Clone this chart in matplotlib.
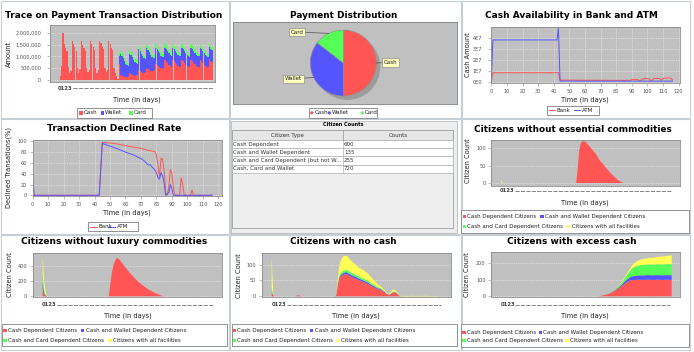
import numpy as np
import matplotlib
matplotlib.use("Agg")
import matplotlib.pyplot as plt
from matplotlib.patches import Rectangle, Circle
from matplotlib.lines import Line2D

plt.rcParams["font.family"] = ["DejaVu Sans"]

# ------------------------------------------------------------------ data
n_days = 117
days = np.arange(n_days)

# Trace on Payment Transaction Distribution (values in thousands)
cash_amount = [
    150, 600, 2000, 1550, 1350, 1250, 550, 300, 400,
    1650, 1550, 1400, 1250, 500, 300, 450,
    1650, 1500, 1380, 1250, 520, 320, 420,
    1650, 1550, 1400, 1280, 500, 300, 430,
    1680, 1560, 1420, 1300, 530, 320, 440,
    1650, 1520, 1380, 1260, 520, 300, 150,
    60,
    700,
    200, 180, 150, 130, 120, 130, 150,
    280, 250, 220, 200, 190, 200, 220,
    410, 380, 340, 310, 300, 320,
    510, 480, 440, 400, 380, 390, 420,
    690, 650, 600, 550, 500, 480, 500,
    830, 780, 710, 640, 580, 550,
    860, 800, 730, 660, 600, 560, 550,
    840, 790, 720, 650, 590, 550, 540,
    860, 800, 730, 660, 600, 560, 550,
    850, 790, 720, 650, 590, 550, 540,
    880, 820, 760]
noncash_start = 45
wallet_amount = [
    300,
    900, 850, 780, 680, 580, 500, 450,
    820, 800, 740, 660, 580, 520, 480,
    900, 850, 780, 700, 620, 560,
    840, 800, 740, 680, 600, 550, 520,
    690, 660, 620, 580, 540, 500, 470,
    550, 540, 520, 500, 480, 460,
    520, 520, 510, 500, 480, 460, 450,
    540, 530, 510, 490, 470, 450, 440,
    520, 520, 510, 500, 480, 460, 450,
    530, 520, 510, 490, 470, 450, 440,
    540, 520, 500]
card_amount = [
    200,
    140, 130, 120, 110, 100, 90, 90,
    170, 160, 150, 130, 120, 110, 100,
    140, 130, 120, 110, 100, 100,
    170, 160, 150, 140, 130, 120, 120,
    210, 190, 170, 150, 140, 130, 130,
    210, 190, 170, 150, 140, 130,
    170, 160, 150, 140, 130, 130, 120,
    140, 140, 130, 130, 120, 120, 110,
    170, 160, 150, 140, 130, 130, 120,
    140, 140, 130, 130, 120, 120, 110,
    170, 160, 150]
pay_names = ["Cash", "Wallet", "Card"]
amount_ticks = [0, 500, 1000, 1500, 2000]
amount_tick_labels = ["0", "500,000", "1,000,000", "1,500,000", "2,000,000"]

# Payment Distribution
pie_labels = ["Cash", "Wallet", "Card"]
pie_values = [50.0, 35.5, 14.5]

# Cash Availability in Bank and ATM
bank_cash_days = [0, 1, 43, 44, 86, 87, 88, 89, 90, 92, 94, 95, 96, 97, 99, 101,
                  102, 103, 104, 106, 108, 109, 110, 112, 114, 115, 116]
bank_cash = [0, 8.3e6, 8.3e6, 1.5e6, 1.2e6, 1.6e6, 1.2e6, 1.4e6, 2.0e6, 2.2e6, 1.9e6,
             1.0e6, 1.5e6, 2.6e6, 3.0e6, 2.7e6, 1.2e6, 1.5e6, 2.8e6, 3.1e6, 2.9e6,
             1.2e6, 2.9e6, 3.4e6, 3.5e6, 3.2e6, 1.6e6]
atm_cash_days = [0, 1, 42, 43, 44, 116]
atm_cash = [0, 3.85e7, 3.85e7, 4.9e7, 0.6e6, 0.5e6]
cash_ticks = [0, 1e7, 2e7, 3e7, 4e7]
cash_tick_labels = ["0E0", "1E7", "2E7", "3E7", "4E7"]

# Transaction Declined Rate
bank_decl_days = [0, 43, 45, 50, 55, 60, 65, 70, 75, 79, 80, 81, 82, 83, 84, 85, 86,
                  87, 88, 89, 90, 91, 92, 95, 96, 97, 98, 102, 103, 104, 116]
bank_decl = [0, 0, 98, 97, 95, 92, 89.5, 87, 83, 81, 75, 55, 35, 69, 66, 45, 5,
             0, 15, 48, 40, 12, 0, 0, 32, 20, 0, 0, 10, 0, 0]
atm_decl_days = [0, 1, 43, 45, 50, 55, 60, 65, 70, 72, 74, 75, 76, 77, 79, 80, 81,
                 82, 83, 84, 85, 86, 88, 89, 90, 91, 116]
atm_decl = [35, 0, 0, 96, 91, 86, 80, 75, 68, 64, 58, 56, 57, 53, 47, 42, 33,
            30, 42, 36, 22, 0, 5, 20, 12, 0, 0]

# Citizen Counts table
citizen_types = ["Cash Dependent", "Cash and Wallet Dependent",
                 "Cash and Card Dependent (but not W...", "Cash, Card and Wallet"]
citizen_counts = [600, 135, 255, 720]

group_names = ["Cash Dependent Citizens", "Cash and Wallet Dependent Citizens",
               "Cash and Card Dependent Citizens", "Citizens with all facilities"]

# Citizens without essential commodities: (start day, values)
ess_red = [(51, [0, 40, 90, 112, 118, 120, 118, 115, 110, 105, 100, 95, 90, 86, 80, 72,
                 65, 60, 56, 50, 45, 40, 35, 30, 26, 22, 18, 14, 10, 7, 4, 2, 1, 0])]
ess_blue = []
ess_green = []
ess_yellow = [(0, [8, 0])]

# Citizens without luxury commodities
lux_red = [(0, [100, 20, 5]),
           (45, [0, 150, 300, 400, 460, 500, 510, 495, 470, 445, 420, 395, 370, 345, 320,
                 298, 276, 255, 235, 215, 197, 180, 163, 147, 133, 119, 106, 93, 81, 70,
                 59, 49, 40, 32, 24, 16, 9, 3, 0])]
lux_blue = [(0, [90, 20, 5])]
lux_green = [(0, [100, 40, 10])]
lux_yellow = [(0, [250, 120, 40])]

# Citizens with no cash
nc_red = [(0, [10, 4]), (17, [2, 3, 2]),
          (43, [0, 5, 35, 55, 62, 66, 68, 70, 70, 68, 65, 62, 60, 58, 56, 54, 52, 50, 48,
                46, 44, 42, 40, 38, 35, 32, 30, 28, 25, 23, 21, 20, 18, 15, 12, 8, 5, 4,
                6, 10, 12, 12, 10, 5, 1, 0])]
nc_blue = [(0, [3, 1]),
           (43, [0, 0, 3, 4, 5, 5, 6, 6, 6, 6, 6, 6, 6, 6, 6, 6, 5, 5, 5, 5, 5, 5, 5, 5,
                 4, 4, 4, 4, 3, 3, 3, 3, 2, 2, 2, 1, 1, 1, 1, 1, 1, 1, 1, 1, 0, 0])]
nc_green = [(0, [12, 2]),
            (43, [0, 0, 3, 5, 6, 6, 7, 7, 8, 8, 7, 7, 7, 7, 7, 6, 6, 6, 6, 6, 6, 5, 5, 5,
                  5, 5, 4, 4, 4, 4, 3, 3, 3, 2, 2, 1, 1, 1, 1, 2, 2, 2, 1, 1, 0, 0])]
nc_yellow = [(0, [100, 5]),
             (43, [0, 2, 15, 30, 40, 45, 46, 45, 44, 42, 40, 38, 36, 34, 32, 30, 29, 28,
                   28, 27, 26, 25, 24, 22, 20, 18, 16, 14, 12, 10, 8, 7, 6, 5, 4, 3, 2, 2,
                   4, 6, 6, 5, 4, 3, 1, 0]),
             (89, [1, 1, 2, 1, 1, 1, 2, 1, 1, 1, 1, 2, 1, 1, 1, 1, 2, 1, 1, 1, 1, 1, 1, 1,
                   1, 0])]

# Citizens with excess cash
ex_red = [(66, [0, 2, 3, 5, 7, 9, 11, 14, 18, 22, 27, 32, 38, 44, 50, 56, 63, 70, 77, 83,
                88, 93, 96, 98, 99,
                100, 99, 100, 101, 100, 100, 99, 100, 100, 101, 100, 100, 99, 100, 100,
                101, 100, 100, 100, 99, 100, 100, 101, 100, 100, 100])]
ex_blue = [(75, [1, 1, 2, 3, 4, 5, 6, 8, 10, 12, 14, 16, 18, 20, 22, 23, 24, 25, 26, 26,
                 27, 27, 27, 28, 28, 28, 28, 28, 28, 28, 28, 28, 28, 28, 28, 28, 28, 28,
                 28, 28, 28, 28])]
ex_green = [(74, [1, 2, 3, 4, 5, 6, 7, 9, 12, 15, 19, 24, 30, 36, 42, 48, 53, 56, 58, 60,
                  61, 62, 63, 63, 64, 64, 64, 65, 65, 65, 65, 65, 66, 66, 66, 66, 66, 66,
                  66, 67, 67, 67, 67])]
ex_yellow = [(78, [1, 1, 2, 3, 4, 5, 6, 8, 10, 12, 15, 18, 21, 24, 27, 29, 31, 33, 35, 36,
                   37, 38, 39, 40, 40, 41, 42, 43, 44, 45, 46, 47, 48, 48, 49, 50, 51, 52,
                   53])]

# ------------------------------------------------------------------ style
RED, BLUE, GREEN, YELLOW = "#ff5555", "#5555ff", "#55ff55", "#ffff55"
PLOT_BG = "#c0c0c0"
AX_EDGE = "#8c8c8c"
TICK_C = "#505050"
TXT = "#202020"

W, H = 694, 352
fig = plt.figure(figsize=(W / 100, H / 100), dpi=100)
fig.patch.set_facecolor("white")
R = fig.canvas.get_renderer()


def frac(x0, y0, x1, y1):
    return [x0 / W, 1 - y1 / H, (x1 - x0) / W, (y1 - y0) / H]


bg = fig.add_axes([0, 0, 1, 1], zorder=0)
bg.set_xlim(0, W); bg.set_ylim(H, 0); bg.axis("off")
fg = fig.add_axes([0, 0, 1, 1], zorder=30)
fg.set_xlim(0, W); fg.set_ylim(H, 0); fg.axis("off")


def build(segs):
    a = np.zeros(n_days)
    for start, vals in segs:
        a[start:start + len(vals)] = vals
    return a


def title(cx, cy, s, width, size=7.0):
    t = fg.text(cx, cy, s, ha="center", va="center", fontsize=size,
                fontweight="bold", color="black")
    w = t.get_window_extent(renderer=R).width
    t.set_fontsize(size * width / w)
    return t


def make_ax(x0, y0, x1, y1, xlim, ylim, ypad=1.5, xpad=2.0):
    ax = fig.add_axes(frac(x0, y0, x1, y1), zorder=10)
    ax.set_facecolor(PLOT_BG)
    for sp in ax.spines.values():
        sp.set_color(AX_EDGE); sp.set_linewidth(0.6)
    ax.tick_params(length=2, width=0.4, color=AX_EDGE, labelsize=3.6,
                   labelcolor=TICK_C)
    ax.tick_params(axis="y", pad=ypad)
    ax.tick_params(axis="x", pad=xpad)
    ax.set_xlim(*xlim); ax.set_ylim(*ylim)
    ax.set_axisbelow(True)
    return ax


def grid(ax, both=False):
    kw = dict(color="white", lw=0.4, ls=(0, (2, 2)), alpha=0.8)
    ax.yaxis.grid(True, **kw)
    if both:
        ax.xaxis.grid(True, **kw)


def xlab(cx, cy, s):
    fg.text(cx, cy, s, ha="center", va="center", fontsize=4.8, color=TXT)


def ylab(cx, cy, s):
    fg.text(cx, cy, s, ha="center", va="center", fontsize=4.8, color=TXT, rotation=90)


def cat_labels(x0, x1, y):
    fg.text(x0, y, "0123", ha="left", va="center", fontsize=3.8,
            fontweight="bold", color="#404040")
    fg.add_line(Line2D([x0 + 15, x1], [y, y], color="#707070", lw=0.6,
                       ls=(0, (5, 1.5))))


def leg_box(x0, y0, x1, y1):
    bg.add_patch(Rectangle((x0, y0), x1 - x0, y1 - y0, fc="white", ec="#808080", lw=0.6))


def leg_sq(x, y, c, label):
    fg.add_patch(Rectangle((x, y - 1.7), 3.4, 3.4, fc=c, ec="none"))
    fg.text(x + 4.6, y, label, ha="left", va="center", fontsize=4.0, color=TXT)


def leg_dot(x, y, c, label):
    fg.add_patch(Circle((x, y), 1.6, fc=c, ec="none"))
    fg.text(x + 2.6, y, label, ha="left", va="center", fontsize=4.0, color=TXT)


def leg_line(x0, x1, y, c, label):
    fg.add_line(Line2D([x0, x1], [y, y], color=c, lw=0.7))
    fg.text(x1 + 2, y, label, ha="left", va="center", fontsize=4.0, color=TXT)


# ------------------------------------------------------------------ cell frames
for (x0, x1) in [(0.5, 229.5), (230.5, 461.5), (462.5, 690.5)]:
    for (y0, y1) in [(0.5, 117.5), (118.5, 233.5), (234.5, 349.5)]:
        bg.add_patch(Rectangle((x0, y0), x1 - x0, y1 - y0, fc="none",
                               ec="#c8ced6", lw=0.8))

# ------------------------------------------------------------------ P1 bars
ax1 = make_ax(50, 25, 215, 82, (-8.04, 118.3), (-85, 2340), ypad=4.3)
cash_a = np.array(cash_amount, dtype=float)
wallet_a = build([(noncash_start, wallet_amount)])
card_a = build([(noncash_start, card_amount)])
ax1.bar(days, cash_a, width=0.95, color=RED, lw=0)
ax1.bar(days, wallet_a, width=0.95, bottom=cash_a, color=BLUE, lw=0)
ax1.bar(days, card_a, width=0.95, bottom=cash_a + wallet_a, color=GREEN, lw=0)
ax1.set_xticks([])
ax1.set_yticks(amount_ticks, amount_tick_labels)
grid(ax1)
title(113.5, 15, "Trace on Payment Transaction Distribution", 217)
ylab(9.3, 54, "Amount")
cat_labels(58, 213, 88.3)
xlab(137, 100, "Time (in days)")
leg_box(77, 108, 152, 117.5)
for x, c, lab in zip([79.5, 100.7, 129.3], [RED, BLUE, GREEN], pay_names):
    leg_sq(x, 112.8, c, lab)

# ------------------------------------------------------------------ P2 pie
PCX, PCY, PR = 343.3, 63.0, 33.0
pax = fig.add_axes(frac(233, 22, 457, 104), zorder=10)
pax.add_patch(Circle((0.12, -0.12), 1.0, fc="#9c9c9c", ec="none", zorder=0))
wedges, _ = pax.pie(pie_values, colors=[RED, BLUE, GREEN], startangle=90,
                    counterclock=False, radius=1.0, frame=True,
                    wedgeprops=dict(linewidth=0.4, edgecolor="#909090"))
pax.set_aspect("auto")
pax.set_xlim(-(PCX - 233) / PR, (457 - PCX) / PR)
pax.set_ylim(-(104 - PCY) / PR, (PCY - 22) / PR)
pax.set_xticks([]); pax.set_yticks([])
pax.set_facecolor(PLOT_BG)
for sp in pax.spines.values():
    sp.set_color("#808080"); sp.set_linewidth(0.6)
label_pos = {"Card": (297, 32), "Cash": (390.8, 62.5), "Wallet": (293.3, 78.8)}
for w, lab in zip(wedges, pie_labels):
    ang = np.deg2rad((w.theta1 + w.theta2) / 2)
    px, py = PCX + PR * np.cos(ang), PCY - PR * np.sin(ang)
    lx, ly = label_pos[lab]
    fg.add_line(Line2D([lx, px], [ly, py], color="#505050", lw=0.5))
    fg.text(lx, ly, lab, ha="center", va="center", fontsize=4.0, color=TXT,
            bbox=dict(boxstyle="square,pad=0.3", fc="#ffffc0", ec="#909090", lw=0.5))
title(343.5, 15, "Payment Distribution", 107)
leg_box(309, 107.5, 377, 117.5)
for x, c, lab in zip([311.7, 329.3, 362.3], [RED, BLUE, GREEN], pie_labels):
    leg_dot(x, 112.8, c, lab)

# ------------------------------------------------------------------ P3 lines
ax3 = make_ax(491.3, 26.7, 680.3, 82.7, (0, 121.0), (-0.092e7, 5.07e7), ypad=4.5, xpad=2.5)
ax3.plot(bank_cash_days, bank_cash, color=RED, lw=0.7)
ax3.plot(atm_cash_days, atm_cash, color=BLUE, lw=0.7)
ax3.set_xticks(range(0, 121, 10))
ax3.set_yticks(cash_ticks, cash_tick_labels)
grid(ax3, both=True)
title(571.7, 15, "Cash Availability in Bank and ATM", 174)
ylab(468, 55, "Cash Amount")
xlab(585.3, 99.5, "Time (in days)")
leg_box(547, 106, 599, 114.5)
leg_line(549.3, 555, 110.3, RED, "Bank")
leg_line(573.7, 580, 110.3, BLUE, "ATM")

# ------------------------------------------------------------------ P4 lines
ax4 = make_ax(32.7, 139.7, 221.7, 196.3, (0, 122.2), (-1.85, 103), ypad=2.2, xpad=2.0)
ax4.plot(bank_decl_days, bank_decl, color=RED, lw=0.7)
ax4.plot(atm_decl_days, atm_decl, color=BLUE, lw=0.7)
ax4.set_xticks(range(0, 121, 10))
ax4.set_yticks(range(0, 101, 20))
grid(ax4, both=True)
title(114.2, 128.5, "Transaction Declined Rate", 135)
ylab(8.3, 167, "Declined Transations(%)")
xlab(126.7, 213, "Time (in days)")
leg_box(88, 222, 138, 231.3)
leg_line(90, 96.7, 226.7, RED, "Bank")
leg_line(108.3, 115, 226.7, BLUE, "ATM")

# ------------------------------------------------------------------ P5 table
bg.add_patch(Rectangle((231, 120.8), 226, 112, fc="#eeeeee", ec="#b8b8b8", lw=0.6))
title(343, 124.8, "Citizen Counts", 40.7, size=4.5)
tx0, tx1, tmid = 231.7, 453.3, 342.7
bg.add_patch(Rectangle((tx0, 130.3), tx1 - tx0, 228 - 130.3, fc="#eeeeee",
                       ec="#a0a0a0", lw=0.6))
bg.add_patch(Rectangle((tx0, 130.3), tx1 - tx0, 10, fc="#e6e6e6", ec="#a0a0a0", lw=0.6))
bg.add_line(Line2D([tmid, tmid], [130.3, 140.3], color="#a0a0a0", lw=0.6))
fg.text((tx0 + tmid) / 2, 135.3, "Citizen Type", ha="center", va="center",
        fontsize=4.0, color="#333333")
fg.text((tmid + tx1) / 2, 135.3, "Counts", ha="center", va="center",
        fontsize=4.0, color="#333333")
row_edges = [140.3, 148.3, 156.3, 164.5, 172.5]
for i, (ctype, cnt) in enumerate(zip(citizen_types, citizen_counts)):
    ya, yb = row_edges[i], row_edges[i + 1]
    bg.add_patch(Rectangle((tx0, ya), tx1 - tx0, yb - ya, fc="white",
                           ec="#b0b0b0", lw=0.5))
    bg.add_line(Line2D([tmid, tmid], [ya, yb], color="#b0b0b0", lw=0.5))
    fg.text(tx0 + 1.3, (ya + yb) / 2, ctype, ha="left", va="center",
            fontsize=4.0, color="#333333")
    fg.text(tmid + 1.3, (ya + yb) / 2, str(cnt), ha="left", va="center",
            fontsize=4.0, color="#333333")


# ------------------------------------------------------------------ area charts
def area_panel(box, ylim, yticks, layers, ttl, tcx, tcy, tw, ylx, yly,
               cat_x0, cat_x1, cat_y, xlx, xly, lbox, rows, sq_x, ypad=2.0):
    ax = make_ax(*box, (-6.8, 121.9), ylim, ypad=ypad)
    ax.stackplot(days, *[build(l) for l in layers],
                 colors=[RED, BLUE, GREEN, YELLOW], linewidth=0)
    ax.set_xticks([])
    ax.set_yticks(yticks)
    grid(ax)
    title(tcx, tcy, ttl, tw)
    ylab(ylx, yly, "Citizen Count")
    cat_labels(cat_x0, cat_x1, cat_y)
    xlab(xlx, xly, "Time (in days)")
    leg_box(*lbox)
    cols = [RED, BLUE, GREEN, YELLOW]
    for k in range(4):
        leg_sq(sq_x[k], rows[k // 2], cols[k], group_names[k])
    return ax


area_panel((491.3, 139.7, 680.3, 186.3), (-9.4, 123.7), [0, 50, 100],
           [ess_red, ess_blue, ess_green, ess_yellow],
           "Citizens without essential commodities", 572.8, 129, 198,
           468, 160.7, 500, 671, 190.5, 585.3, 203,
           (461, 209.7, 689, 232.7), [216.7, 226.3], [462.7, 540.3, 462.7, 567])

area_panel((32.7, 253.3, 221.7, 297.3), (-13.3, 573), [0, 200, 400],
           [lux_red, lux_blue, lux_green, lux_yellow],
           "Citizens without luxury commodities", 114.5, 241.3, 185.6,
           10, 274.7, 41.7, 213, 304.7, 127.5, 315.7,
           (1.7, 324, 227.3, 345.7), [330.7, 340.7], [3.3, 81, 3.3, 108.3])

area_panel((261.7, 253.3, 450.7, 297.3), (-3.2, 136), [0, 50, 100],
           [nc_red, nc_blue, nc_green, nc_yellow],
           "Citizens with no cash", 343, 241.3, 107,
           239.3, 275.7, 271.7, 440.7, 304.7, 356, 315.7,
           (231.7, 324, 456.7, 345.7), [330.7, 340.7], [232.7, 310, 232.7, 336.7])

area_panel((491.3, 252.3, 680.3, 297.3), (-6, 266.7), [0, 100, 200],
           [ex_red, ex_blue, ex_green, ex_yellow],
           "Citizens with excess cash", 571.7, 241.3, 129,
           467, 274.7, 500.3, 670, 304.7, 585.3, 315.7,
           (461, 324, 688.7, 347.3), [332.3, 340.7], [462.3, 538.7, 462.3, 565.3])

fig.savefig("out.png", dpi=100)
